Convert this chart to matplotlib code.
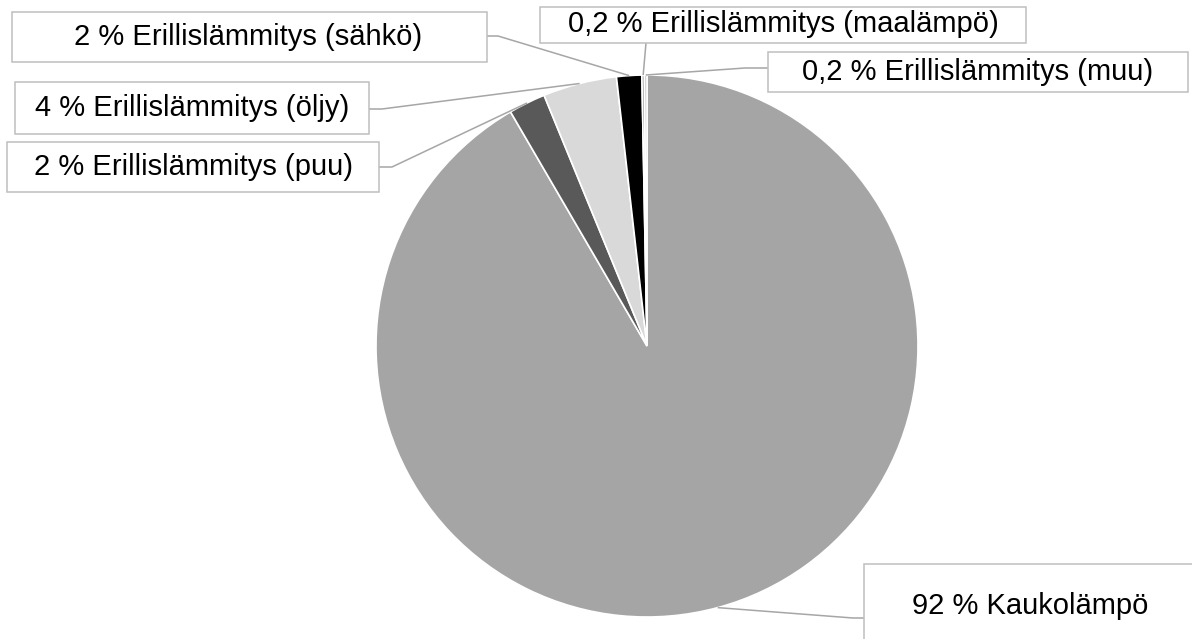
import numpy as np
import matplotlib
matplotlib.use("Agg")
import matplotlib.pyplot as plt
from matplotlib.patches import Rectangle

# --- data ---
categories = ["Kaukolämpö", "Erillislämmitys (puu)", "Erillislämmitys (öljy)",
              "Erillislämmitys (sähkö)", "Erillislämmitys (maalämpö)",
              "Erillislämmitys (muu)"]
shares = [91.6, 2.2, 4.4, 1.5, 0.15, 0.15]          # % of total
shown_pct = ["92", "2", "4", "2", "0,2", "0,2"]      # as printed in the labels
colors = ["#A5A5A5", "#595959", "#D9D9D9", "#000000", "#7F7F7F", "#BFBFBF"]

# --- layout (pixel coords, origin top-left) ---
W, H = 1192, 639
CX, CY, R = 647, 346, 271
# label box (x0, y0, x1, y1), text centre, elbow point (None = straight line)
boxes = [(864, 564, 1215, 660), (7, 142, 379, 192), (15, 82, 369, 134),
         (12, 12, 487, 62), (540, 7, 1026, 43), (768, 52, 1188, 92)]
text_xy = [(1030, 606), (193, 167), (192, 108), (248, 37), (783, 24), (978, 72)]
anchor = [(864, 618), (379, 167), (369, 109), (487, 36), (646, 43), (768, 68)]
elbow = [(853, 618), (392, 167), (382, 109), (498, 36), None, (745, 68)]

LINE = "#A6A6A6"
BOX = "#BFBFBF"


def fy(py):
    return H - py


fig = plt.figure(figsize=(W / 100, H / 100), dpi=100)
ax = fig.add_axes([0, 0, 1, 1])
wedges, _ = ax.pie(shares, colors=colors, startangle=90, counterclock=False,
                   center=(CX, fy(CY)), radius=R,
                   wedgeprops=dict(edgecolor="white", linewidth=1.2))
ax.set_xlim(0, W)
ax.set_ylim(0, H)
ax.set_aspect("equal")
ax.axis("off")

for i, w in enumerate(wedges):
    mid = np.deg2rad((w.theta1 + w.theta2) / 2)
    ex, ey = CX + R * np.cos(mid), fy(CY) + R * np.sin(mid)
    pts = [(ex, ey)]
    if elbow[i] is not None:
        pts.append((elbow[i][0], fy(elbow[i][1])))
    pts.append((anchor[i][0], fy(anchor[i][1])))
    xs, ys = zip(*pts)
    ax.plot(xs, ys, color=LINE, lw=1.1, solid_capstyle="butt", zorder=3)

    x0, y0, x1, y1 = boxes[i]
    ax.add_patch(Rectangle((x0, fy(y1)), x1 - x0, y1 - y0, facecolor="white",
                           edgecolor=BOX, lw=1.1, zorder=4, clip_on=False))
    tx, ty = text_xy[i]
    ax.text(tx, fy(ty), f"{shown_pct[i]} % {categories[i]}", ha="center",
            va="center", fontsize=21, family="Liberation Sans",
            color="#000000", zorder=5)

fig.savefig("out.png", dpi=100)
